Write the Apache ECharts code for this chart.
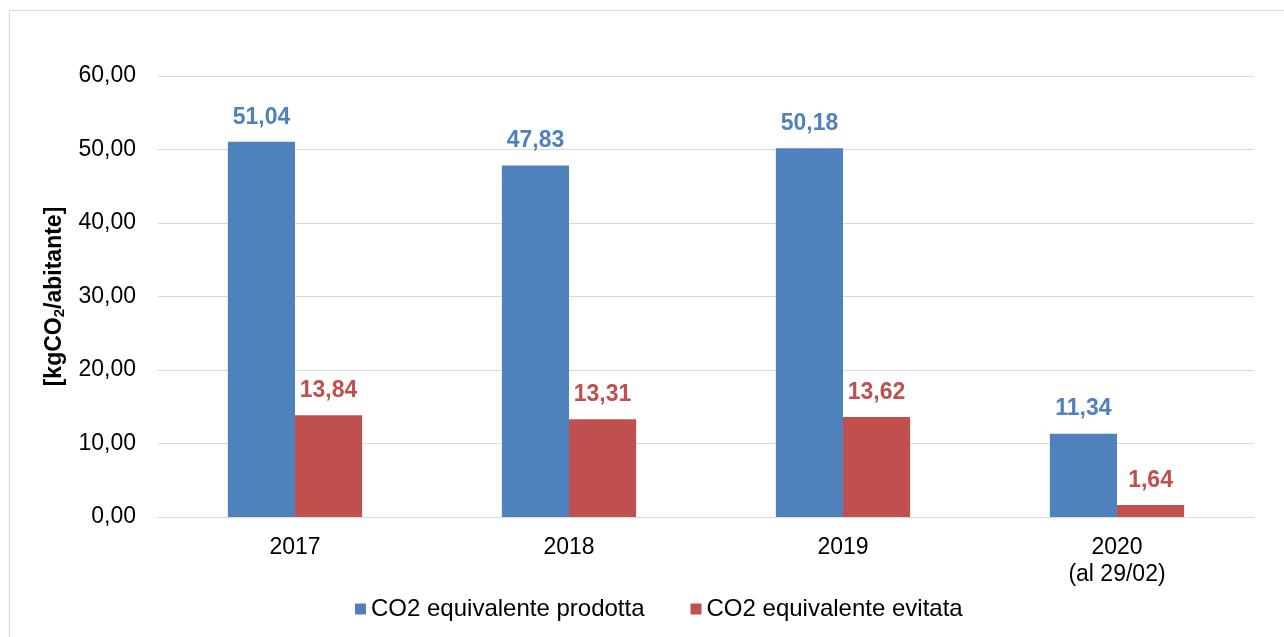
<!DOCTYPE html>
<html><head><meta charset="utf-8">
<script src="https://cdn.jsdelivr.net/npm/echarts@6/dist/echarts.min.js"></script>
<style>html,body{margin:0;padding:0;background:#fff}#c{width:1284px;height:637px}</style>
</head><body><div id="c"></div>
<script>
var categories = ['2017', '2018', '2019', '2020\n(al 29/02)'];
var prodotta = [51.04, 47.83, 50.18, 11.34];
var evitata = [13.84, 13.31, 13.62, 1.64];
var seriesNames = ['CO2 equivalente prodotta', 'CO2 equivalente evitata'];

function fmt(v){ return v.toFixed(2).replace('.', ','); }
var FONT = '"Liberation Sans", Arial, sans-serif';
var chart = echarts.init(document.getElementById('c'));
chart.setOption({
  animation: false,
  textStyle: {fontFamily: FONT},
  graphic: [{type:'rect', shape:{x:9.5,y:10.5,width:1400,height:800}, style:{fill:'none', stroke:'#d9d9d9', lineWidth:1}, silent:true}],
  grid: {left: 158, right: 30, top: 76, bottom: 120},
  legend: {
    top: 592, left: 350, itemWidth: 11, itemHeight: 11, itemGap: 46,
    icon: 'rect',
    textStyle: {fontSize: 24, color: '#000', fontFamily: FONT},
    data: seriesNames
  },
  xAxis: {
    type: 'category', data: categories,
    axisTick: {show: false},
    axisLine: {lineStyle: {color: '#d9d9d9', width: 1}},
    axisLabel: {fontSize: 23, color: '#000', margin: 17, lineHeight: 27, fontFamily: FONT}
  },
  yAxis: {
    type: 'value', min: 0, max: 60, interval: 10,
    axisLabel: {fontSize: 23, color: '#000', margin: 22, formatter: function(v){return fmt(v);}, fontFamily: FONT},
    splitLine: {lineStyle: {color: '#d9d9d9', width: 1}},
    name: '{a|[kgCO}{s|2}{a|/abitante]}',
    nameLocation: 'middle', nameRotate: 90, nameGap: 87,
    nameTextStyle: {
      rich: {
        a: {fontSize: 23, fontWeight: 'bold', color: '#000', fontFamily: FONT, lineHeight: 26},
        s: {fontSize: 15, fontWeight: 'bold', color: '#000', fontFamily: FONT, verticalAlign: 'bottom', lineHeight: 26, padding: [12,0,0,0]}
      }
    }
  },
  series: [
    {name: seriesNames[0], type: 'bar', data: prodotta, barGap: '0%', barCategoryGap: '51%',
     itemStyle: {color: '#4F81BD'},
     label: {show: true, position: 'top', distance: 13, fontSize: 23, fontWeight: 'bold', color: '#4F81BD', formatter: function(p){return fmt(p.value);}, fontFamily: FONT}},
    {name: seriesNames[1], type: 'bar', data: evitata, barGap: '0%', barCategoryGap: '51%',
     itemStyle: {color: '#C0504D'},
     label: {show: true, position: 'top', distance: 13, fontSize: 23, fontWeight: 'bold', color: '#C0504D', formatter: function(p){return fmt(p.value);}, fontFamily: FONT}}
  ]
});
</script></body></html>
